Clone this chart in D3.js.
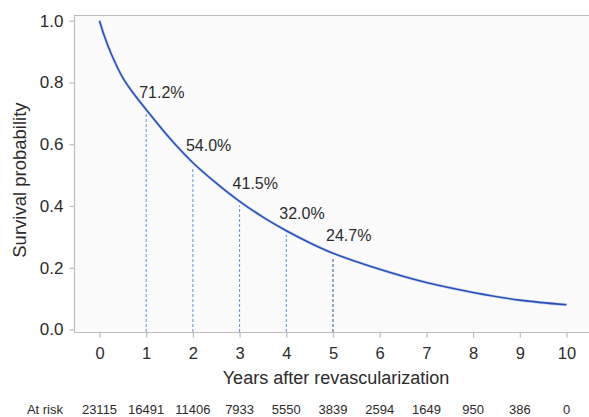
<!DOCTYPE html>
<html>
<head>
<meta charset="utf-8">
<script src="https://cdn.jsdelivr.net/npm/d3@7"></script>
<style>
html,body{margin:0;padding:0;background:#fff;}
svg{display:block;font-family:"Liberation Sans",Arial,Helvetica,sans-serif;}
</style>
</head>
<body>
<svg id="chart" width="589" height="417"></svg>
<script>
// ---- data ----
const curveYears = [0, 0.1, 0.25, 0.5, 0.75, 1, 1.5, 2, 2.5, 3, 3.5, 4, 4.5, 5, 6, 7, 8, 9, 10];
const curveSurvival = [1.0, 0.952, 0.893, 0.815, 0.760, 0.712, 0.620, 0.540, 0.474, 0.415, 0.364, 0.320, 0.281, 0.247, 0.195, 0.152, 0.120, 0.095, 0.080];
const markYears = [1, 2, 3, 4, 5];
const markSurvival = [0.712, 0.540, 0.415, 0.320, 0.247];
const xTicks = [0, 1, 2, 3, 4, 5, 6, 7, 8, 9, 10];
const yTicks = [0.0, 0.2, 0.4, 0.6, 0.8, 1.0];
const atRiskYears = [0, 1, 2, 3, 4, 5, 6, 7, 8, 9, 10];
const atRiskCounts = [23115, 16491, 11406, 7933, 5550, 3839, 2594, 1649, 950, 386, 0];
const xTitle = "Years after revascularization";
const yTitle = "Survival probability";

// ---- layout ----
const frame = {left: 74, top: 15, right: 589, bottom: 332};
const x = d3.scaleLinear().domain([0, 10]).range([99.5, 566.5]);
const y = d3.scaleLinear().domain([0, 1]).range([329.5, 20.7]);
const axisColor = "#bdbdbd";
const textColor = "#2b2b2b";

const svg = d3.select("#chart");

// plot background
svg.append("rect")
  .attr("x", frame.left).attr("y", frame.top)
  .attr("width", frame.right - frame.left).attr("height", frame.bottom - frame.top)
  .attr("fill", "#fbfbfb");

// top border
svg.append("line")
  .attr("x1", frame.left).attr("x2", frame.right)
  .attr("y1", frame.top + 0.5).attr("y2", frame.top + 0.5)
  .attr("stroke", axisColor).attr("stroke-width", 1.2);

// y axis
const yAxis = svg.append("g")
  .attr("transform", `translate(${frame.left + 0.5},0)`)
  .call(d3.axisLeft(y).tickValues(yTicks).tickFormat(d3.format(".1f")).tickSize(5).tickSizeOuter(0).tickPadding(6));
yAxis.select(".domain").remove();
yAxis.append("line").attr("x1", 0).attr("x2", 0).attr("y1", frame.top).attr("y2", frame.bottom)
  .attr("stroke", axisColor).attr("stroke-width", 1.2);
yAxis.selectAll(".tick line").attr("stroke", axisColor).attr("stroke-width", 1.2);
yAxis.selectAll(".tick text").attr("fill", textColor).style("font-size", "17px");

// x axis
const xAxis = svg.append("g")
  .attr("transform", `translate(0,${frame.bottom + 0.5})`)
  .call(d3.axisBottom(x).tickValues(xTicks).tickFormat(d3.format("d")).tickSize(5).tickSizeOuter(0).tickPadding(10));
xAxis.select(".domain").remove();
xAxis.append("line").attr("x1", frame.left).attr("x2", frame.right).attr("y1", 0).attr("y2", 0)
  .attr("stroke", axisColor).attr("stroke-width", 1.2);
xAxis.selectAll(".tick line").attr("stroke", axisColor).attr("stroke-width", 1.2);
xAxis.selectAll(".tick text").attr("fill", textColor).style("font-size", "16.5px");

// axis titles
svg.append("text")
  .attr("x", (x(0) + x(10)) / 2 + 3).attr("y", 384)
  .attr("text-anchor", "middle").attr("fill", textColor).style("font-size", "18px")
  .text(xTitle);
svg.append("text")
  .attr("transform", `translate(26,${(y(0) + y(1)) / 2 + 5}) rotate(-90)`)
  .attr("text-anchor", "middle").attr("fill", textColor).style("font-size", "18.5px")
  .text(yTitle);

// dashed drop lines
const dashColors = ["#5b8de6", "#5b8de6", "#5b8de6", "#5b8de6", "#2b4a9c"];
svg.append("g").selectAll("line")
  .data(markYears)
  .join("line")
  .attr("x1", d => x(d)).attr("x2", d => x(d))
  .attr("y1", frame.bottom)
  .attr("y2", (d, i) => y(markSurvival[i]) + 4)
  .attr("stroke", (d, i) => dashColors[i])
  .attr("stroke-width", 1)
  .attr("stroke-dasharray", "3,2");

// survival curve
const pts = curveYears.map((t, i) => [t, curveSurvival[i]]);
const line = d3.line().x(d => x(d[0])).y(d => y(d[1])).curve(d3.curveCatmullRom.alpha(0.5));
svg.append("path").datum(pts)
  .attr("d", line).attr("fill", "none")
  .attr("stroke", "#a9bfea").attr("stroke-width", 3).attr("stroke-opacity", 0.6);
svg.append("path").datum(pts)
  .attr("d", line).attr("fill", "none")
  .attr("stroke", "#2a50b8").attr("stroke-width", 1.6);

// percentage labels
svg.append("g").selectAll("text")
  .data(markYears)
  .join("text")
  .attr("x", d => x(d) - 7)
  .attr("y", (d, i) => y(markSurvival[i]) - 12)
  .attr("fill", textColor).style("font-size", "16px")
  .text((d, i) => d3.format(".1%")(markSurvival[i]));

// at risk row
svg.append("text")
  .attr("x", 63).attr("y", 414).attr("text-anchor", "end")
  .attr("fill", textColor).style("font-size", "13px")
  .text("At risk");
svg.append("g").selectAll("text")
  .data(atRiskYears)
  .join("text")
  .attr("x", d => x(d)).attr("y", 414)
  .attr("text-anchor", "middle").attr("fill", textColor).style("font-size", "13px")
  .text((d, i) => atRiskCounts[i]);
</script>
</body>
</html>
